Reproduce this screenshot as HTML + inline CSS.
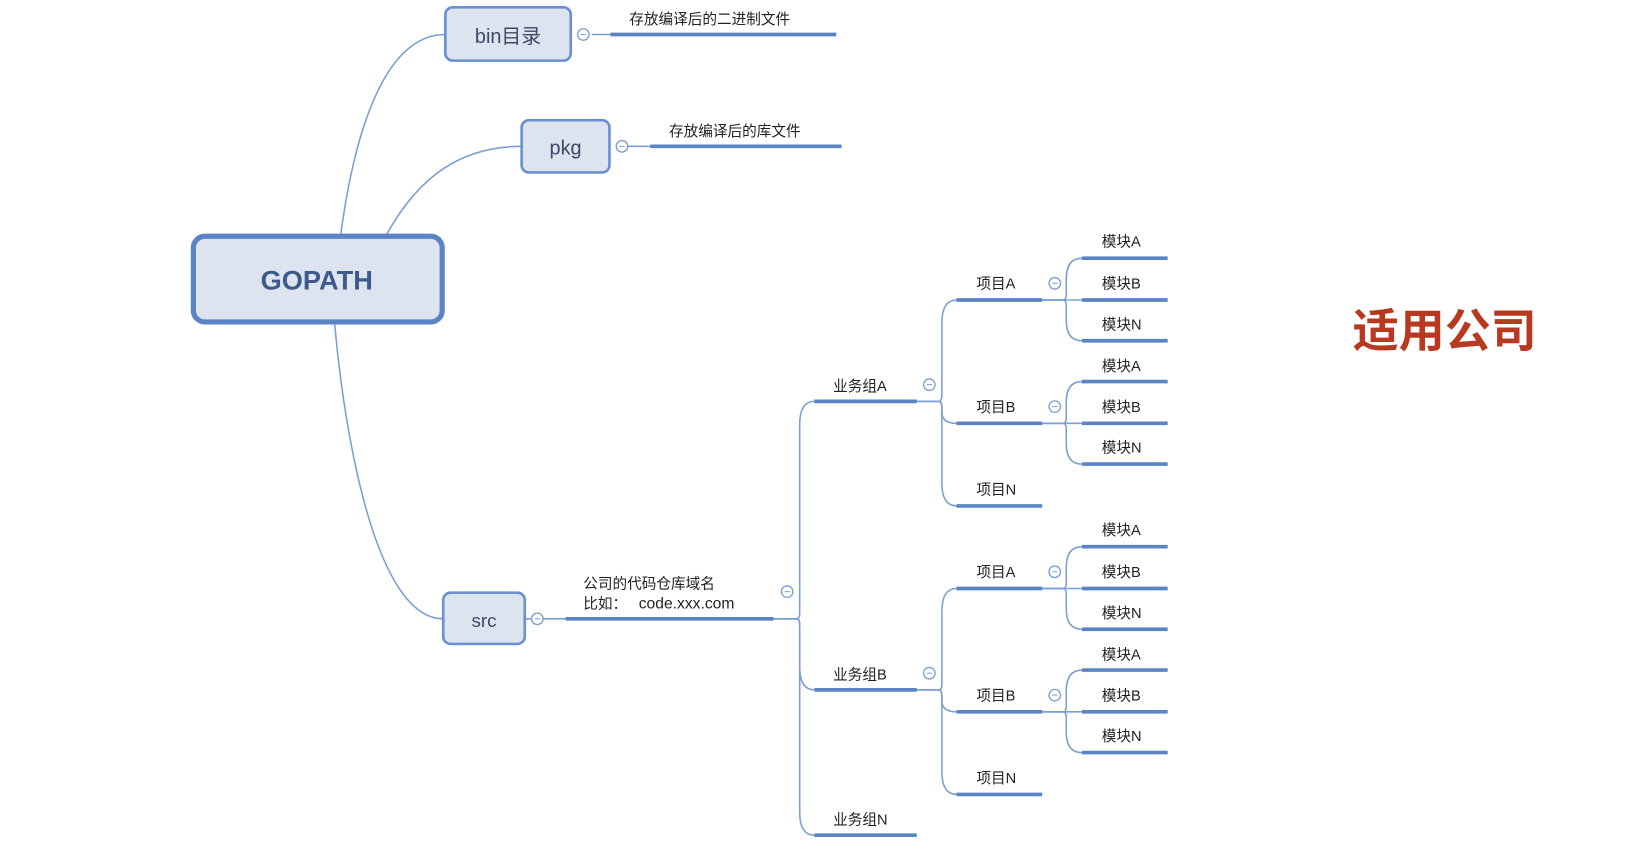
<!DOCTYPE html>
<html><head><meta charset="utf-8"><style>
html,body{margin:0;padding:0;background:#fff;}
svg{display:block;}
</style></head><body>
<svg id="s" width="1636" height="854" viewBox="0 0 1565 817" preserveAspectRatio="none" xmlns="http://www.w3.org/2000/svg" font-family="Liberation Sans, Noto Sans CJK SC, sans-serif">
<g id="lines" fill="none" stroke="#7b9fd4" stroke-width="1.5">
<path d="M326 224 C340 120 370 33 426 33"/>
<path d="M370 224 C400 170 440 140 499 140"/>
<path d="M320 309 C330 420 360 592 424 592"/>
<line x1="566" y1="33" x2="584" y2="33"/>
<line x1="600" y1="140" x2="622" y2="140"/>
<line x1="502" y1="592" x2="541" y2="592"/>
</g>
<g id="thick" stroke="#5b84c4" stroke-width="3.5">
<line x1="584" y1="33" x2="800" y2="33"/>
<line x1="622" y1="140" x2="805" y2="140"/>
<line x1="541" y1="592" x2="740" y2="592"/>
</g>
<rect x="426" y="7" width="120" height="51" rx="7" fill="#dde4f0" stroke="#6b8fd0" stroke-width="2.5"/>
<text x="486" y="41" font-size="19" text-anchor="middle" fill="#3a4a66">bin目录</text>
<rect x="499" y="115" width="84" height="50" rx="7" fill="#dde4f0" stroke="#6b8fd0" stroke-width="2.5"/>
<text x="541" y="148" font-size="19" text-anchor="middle" fill="#3a4a66">pkg</text>
<rect x="185" y="226" width="238" height="82" rx="11" fill="#dde4f0" stroke="#5b84c4" stroke-width="5"/>
<text x="303" y="277" font-size="26" font-weight="bold" text-anchor="middle" fill="#3d5a8a">GOPATH</text>
<rect x="424" y="567" width="78" height="49" rx="7" fill="#dde4f0" stroke="#6b8fd0" stroke-width="2.5"/>
<text x="463" y="600" font-size="18" text-anchor="middle" fill="#3a4a66">src</text>
<g font-size="14" fill="#222">
<text x="602" y="23">存放编译后的二进制文件</text>
<text x="640" y="130">存放编译后的库文件</text>
<text x="558" y="563">公司的代码仓库域名</text>
<text x="558" y="582">比如：</text>
<text x="611" y="582" font-size="15">code.xxx.com</text>
<text x="797" y="374">业务组A</text>
<text x="797" y="650">业务组B</text>
<text x="797" y="789">业务组N</text>
<text x="934" y="276">项目A</text><text x="934" y="394">项目B</text><text x="934" y="473">项目N</text>
<text x="934" y="552">项目A</text><text x="934" y="670">项目B</text><text x="934" y="749">项目N</text>
<text x="1054" y="236">模块A</text><text x="1054" y="276">模块B</text><text x="1054" y="315">模块N</text>
<text x="1054" y="355">模块A</text><text x="1054" y="394">模块B</text><text x="1054" y="433">模块N</text>
<text x="1054" y="512">模块A</text><text x="1054" y="552">模块B</text><text x="1054" y="591">模块N</text>
<text x="1054" y="631">模块A</text><text x="1054" y="670">模块B</text><text x="1054" y="709">模块N</text>
</g>
<text x="1382" y="332" font-size="44" font-weight="bold" text-anchor="middle" fill="#b8391f">适用公司</text>
<g id="circles"></g>
</svg>
<script>
var NS="http://www.w3.org/2000/svg",s=document.getElementById('s');
function el(t,a,p){var e=document.createElementNS(NS,t);for(var k in a)e.setAttribute(k,a[k]);(p||s).appendChild(e);return e;}
var L=document.getElementById('lines'),T=document.getElementById('thick'),C=document.getElementById('circles');
function branch(x0,y0,xm,x1,y1){var r=22,d;
 if(Math.abs(y1-y0)<2){d="M"+x0+" "+y0+" L"+x1+" "+y1;}
 else{var sg=y1>y0?1:-1;var rr=Math.min(r,Math.abs(y1-y0)/2);
 d="M"+x0+" "+y0+" L"+(xm-3)+" "+y0+" Q"+xm+" "+y0+" "+xm+" "+(y0+sg*6)+" L"+xm+" "+(y1-sg*rr)+" Q"+xm+" "+y1+" "+(x1)+" "+y1;}
 el('path',{d:d},L);}
function circ(x,y){el('circle',{cx:x,cy:y,r:5.5,fill:'#fff',stroke:'#7b9fd4','stroke-width':1.3},C);el('line',{x1:x-2.5,y1:y,x2:x+2.5,y2:y,stroke:'#7b9fd4','stroke-width':1},C);}
circ(558,33);circ(595,140);circ(514,592);circ(753,566);
function node(x1,x2,y){el('line',{x1:x1,y1:y,x2:x2,y2:y},T);}
[384,660,799].forEach(function(gy){branch(740,592,765,779,gy);node(779,877,gy);});
[384,660].forEach(function(gy){circ(889,gy-16);
 [gy-97,gy+21,gy+100].forEach(function(py,i){branch(876,gy,901,915,py);node(915,997,py);
  if(i<2){circ(1009,py-16);[py-40,py,py+39].forEach(function(my){branch(997,py,1020,1035,my);node(1035,1117,my);});}
 });
});
</script>
</body></html>
